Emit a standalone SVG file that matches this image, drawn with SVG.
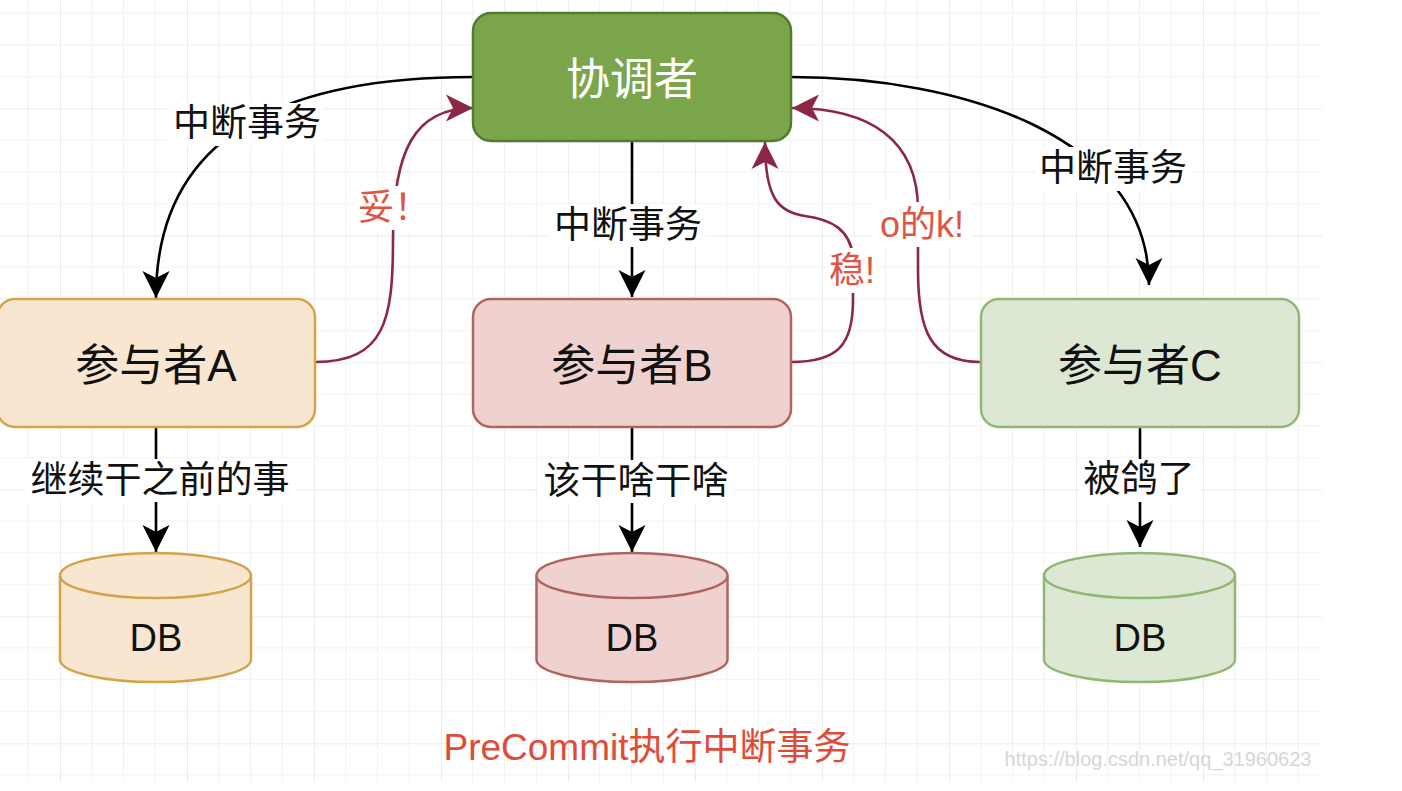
<svg xmlns="http://www.w3.org/2000/svg" width="1402" height="791" viewBox="0 0 1402 791">
<style>
text{font-family:"Liberation Sans","Noto Sans CJK SC",sans-serif;text-anchor:middle;dominant-baseline:central}
.box{stroke-width:2.5}
.nt{font-size:44px;fill:#111}
.lbl{font-size:37px;fill:#111}
.rl{font-size:36px;fill:#e05443}
.db{font-size:38px;fill:#111}
.bg{fill:#fff}
.blk{fill:none;stroke:#000;stroke-width:2.6}
.red{fill:none;stroke:#8c2845;stroke-width:2.6}
</style>
<defs>
<pattern id="grid" patternUnits="userSpaceOnUse" x="60" y="108.3" width="127" height="127">
<rect x="31.25" y="0" width="1" height="127" fill="#f1f1f1"/>
<rect x="63" y="0" width="1" height="127" fill="#f1f1f1"/>
<rect x="94.75" y="0" width="1" height="127" fill="#f1f1f1"/>
<rect x="0" y="31.25" width="127" height="1" fill="#f1f1f1"/>
<rect x="0" y="63" width="127" height="1" fill="#f1f1f1"/>
<rect x="0" y="94.75" width="127" height="1" fill="#f1f1f1"/>
<rect x="-0.6" y="0" width="1.3" height="127" fill="#e4e4e4"/>
<rect x="0" y="-0.6" width="127" height="1.3" fill="#e4e4e4"/>
</pattern>
<marker id="ab" markerUnits="userSpaceOnUse" markerWidth="30" markerHeight="30" refX="27" refY="15" orient="auto">
<path d="M27,15 L0,1.5 L7,15 L0,28.5 Z" fill="#000"/>
</marker>
<marker id="ar" markerUnits="userSpaceOnUse" markerWidth="30" markerHeight="30" refX="27" refY="15" orient="auto">
<path d="M27,15 L0,1.5 L7,15 L0,28.5 Z" fill="#8c2845"/>
</marker>
</defs>
<rect x="0" y="0" width="1402" height="791" fill="#fff"/>
<rect x="0" y="0" width="1322" height="782" fill="url(#grid)"/>

<g id="connectors">
<path class="blk" d="M473,77 C300,77 156,125 156,298" marker-end="url(#ab)"/>
<path class="blk" d="M632,141 L632,297" marker-end="url(#ab)"/>
<path class="blk" d="M791,77 C960,77 1149,135 1149,285" marker-end="url(#ab)"/>
<path class="blk" d="M156,427 L156,552" marker-end="url(#ab)"/>
<path class="blk" d="M632,427 L632,552" marker-end="url(#ab)"/>
<path class="blk" d="M1140,427 L1140,547" marker-end="url(#ab)"/>
<path class="red" d="M315,362 C385,362 393,320 393,240 C393,150 415,108 473,108" marker-end="url(#ar)"/>
<path class="red" d="M791,362 C838,362 853,345 853,300 L853,262 C853,228 828,219 805,216 C778,212 765,198 765,142" marker-end="url(#ar)"/>
<path class="red" d="M980,362 C930,362 918,330 918,270 L918,210 C918,140 870,108 792,108" marker-end="url(#ar)"/>
<g id="edge-labels">
<rect class="bg" x="170" y="103" width="153" height="43"/>
<text class="lbl" x="247" y="123">中断事务</text>
<rect class="bg" x="550" y="204" width="155" height="43"/>
<text class="lbl" x="628" y="225">中断事务</text>
<rect class="bg" x="1036" y="147" width="154" height="44"/>
<text class="lbl" x="1113" y="168">中断事务</text>
<rect class="bg" x="25" y="459" width="270" height="43"/>
<text class="lbl" x="160" y="480">继续干之前的事</text>
<rect class="bg" x="538" y="460" width="196" height="43"/>
<text class="lbl" x="636" y="481">该干啥干啥</text>
<rect class="bg" x="1080" y="459" width="121" height="43"/>
<text class="lbl" x="1139" y="479">被鸽了</text>
<rect class="bg" x="355" y="186" width="60" height="44"/>
<text class="rl" x="358" y="207" style="text-anchor:start">妥！</text>
<rect class="bg" x="826" y="248" width="52" height="45"/>
<text class="rl" x="852" y="270">稳!</text>
<rect class="bg" x="873" y="202" width="98" height="45"/>
<text class="rl" x="922" y="224">o的k!</text>
</g>
</g>

<g id="coordinator">
<rect class="box" x="473" y="13" width="318" height="128" rx="18" fill="#7ba54b" stroke="#517c2e"/>
<text class="nt" x="632" y="79" style="fill:#fff">协调者</text>
</g>
<g id="participantA">
<rect class="box" x="-3" y="299" width="318" height="128" rx="18" fill="#f8e6d1" stroke="#d2a54a"/>
<text class="nt" x="156" y="365">参与者A</text>
</g>
<g id="participantB">
<rect class="box" x="473" y="299" width="318" height="128" rx="18" fill="#efd2d0" stroke="#b0645f"/>
<text class="nt" x="632" y="365">参与者B</text>
</g>
<g id="participantC">
<rect class="box" x="981" y="299" width="318" height="128" rx="18" fill="#dce7d4" stroke="#91b873"/>
<text class="nt" x="1140" y="365">参与者C</text>
</g>
<g id="dbA">
<path class="box" d="M60,575.5 A95.5,22.5 0 0 1 251,575.5 L251,659.5 A95.5,22.5 0 0 1 60,659.5 Z" fill="#f8e6d1" stroke="#d2a54a"/>
<path class="box" d="M60,575.5 A95.5,22.5 0 0 0 251,575.5" fill="none" stroke="#d2a54a"/>
<text class="db" x="156" y="638">DB</text>
</g>
<g id="dbB">
<path class="box" d="M536.5,575.5 A95.5,22.5 0 0 1 727.5,575.5 L727.5,659.5 A95.5,22.5 0 0 1 536.5,659.5 Z" fill="#efd2d0" stroke="#b0645f"/>
<path class="box" d="M536.5,575.5 A95.5,22.5 0 0 0 727.5,575.5" fill="none" stroke="#b0645f"/>
<text class="db" x="632" y="638">DB</text>
</g>
<g id="dbC">
<path class="box" d="M1044,575.5 A95.5,22.5 0 0 1 1235,575.5 L1235,659.5 A95.5,22.5 0 0 1 1044,659.5 Z" fill="#dce7d4" stroke="#91b873"/>
<path class="box" d="M1044,575.5 A95.5,22.5 0 0 0 1235,575.5" fill="none" stroke="#91b873"/>
<text class="db" x="1140" y="638">DB</text>
</g>
<g id="title">
<text x="647" y="747" style="font-size:37px;fill:#e04a38">PreCommit执行中断事务</text>
</g>
<g id="watermark">
<text x="1158" y="759" style="font-size:20px;fill:#d6d6d6">https://blog.csdn.net/qq_31960623</text>
</g>
</svg>
